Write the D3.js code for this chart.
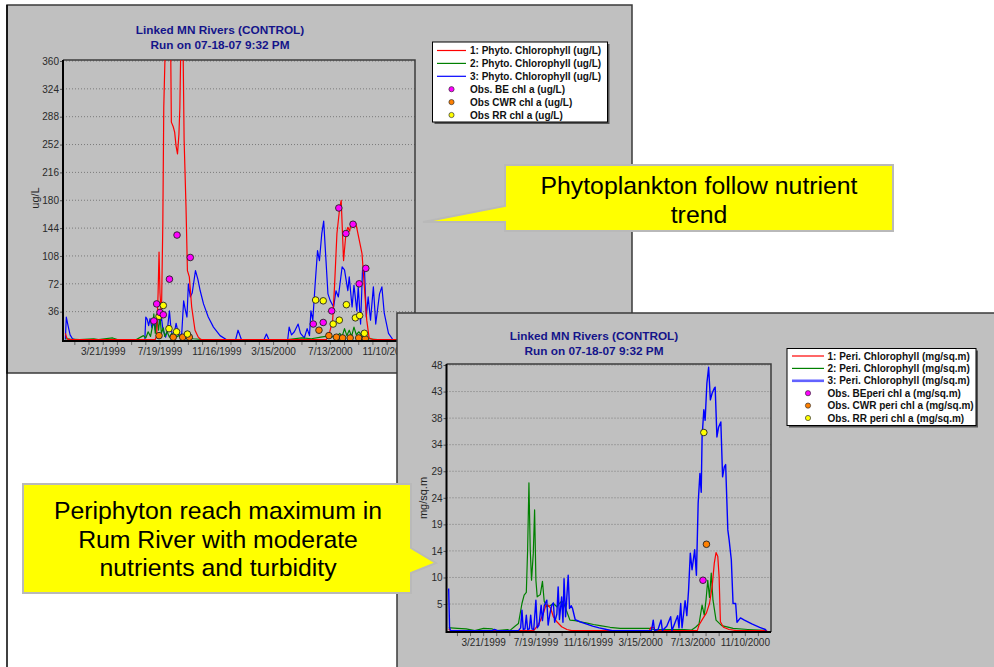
<!DOCTYPE html>
<html>
<head>
<meta charset="utf-8">
<script src="https://cdn.jsdelivr.net/npm/d3@7"></script>
<style>
  body { margin: 0; background: #fff; }
  svg { display: block; font-family: Arial, "Liberation Sans", sans-serif; }
</style>
</head>
<body>
<svg id="fig" width="994" height="667"></svg>
<script>
// ---- data: [day since 1 Jan 1999, value] ----
const phyto1 = [[0,8],[3,2],[6,0],[170,0],[190,0],[193,5],[196,60],[198,113],[200,60],[203,29],[206,150],[208,300],[212,400],[217,420],[222,420],[224,281],[228,275],[231,268],[234,250],[237,240],[240,265],[242,300],[245,420],[248,420],[251,258],[255,171],[258,89],[262,81],[267,42],[274,12],[281,3],[286,0],[552,0],[558,8],[565,25],[569,70],[574,137],[580,171],[583,180],[588,102],[593,137],[597,145],[601,140],[604,152],[609,145],[614,150],[620,132],[627,111],[632,68],[637,25],[642,2],[650,0],[730,0]];
const phyto2 = [[0,1],[10,0.5],[30,0],[60,1],[70,0],[100,2],[110,0],[150,0],[165,5],[170,2],[175,10],[180,4],[185,20],[187,33],[190,8],[194,25],[197,12],[200,30],[203,8],[207,15],[210,4],[215,10],[220,3],[225,8],[230,2],[240,5],[250,2],[260,4],[270,1],[290,0],[470,0],[500,2],[520,1],[540,3],[560,5],[570,2],[580,8],[585,4],[590,14],[595,5],[600,12],[605,4],[610,16],[615,6],[620,10],[630,3],[640,1],[660,0],[730,0]];
const phyto3 = [[0,0],[2,29],[5,20],[10,6],[15,1],[20,0],[168,0],[170,29],[173,26],[176,18],[179,27],[183,15],[187,22],[190,12],[193,28],[196,37],[199,20],[203,29],[206,14],[209,8],[212,3],[216,15],[220,37],[223,15],[226,6],[229,3],[234,21],[238,10],[242,4],[246,8],[250,50],[253,40],[257,29],[260,72],[264,55],[268,60],[275,89],[280,78],[285,63],[292,46],[302,29],[313,16],[327,5],[340,0],[360,0],[365,12],[372,0],[420,0],[425,7],[430,0],[470,0],[473,16],[478,6],[484,10],[492,20],[497,8],[505,2],[511,14],[516,5],[519,37],[523,25],[528,72],[533,115],[537,102],[542,137],[546,153],[550,111],[555,59],[560,50],[567,42],[572,63],[577,55],[585,94],[590,90],[597,63],[600,81],[606,42],[610,70],[616,37],[619,68],[624,20],[628,89],[632,94],[636,29],[640,55],[645,25],[651,68],[656,20],[664,59],[669,68],[674,34],[683,8],[692,0],[730,0]];
const obsBE = [[187,24],[193,46],[200,35],[207,32],[220,78],[236,135],[264,106],[524,20],[545,22],[563,37],[578,170],[593,137],[608,149],[621,72],[635,92]];
const obsCWR = [[198,5],[228,3],[248,3],[262,3],[536,12],[557,5],[573,3],[586,2],[602,2],[620,2],[634,1]];
const obsRR = [[198,30],[207,44],[219,14],[235,10],[258,7],[529,51],[545,50],[566,20],[579,25],[594,45],[613,28],[622,31],[632,8]];

const peri1 = [[0,0.3],[4,0],[195,0],[202,0.7],[209,1.6],[217,3.1],[223,4.6],[228,4.6],[234,4],[240,2.5],[248,1.6],[259,0.7],[271,0.2],[282,0],[460,0],[464,0.6],[470,0.6],[473,0],[570,0],[574,1],[583,2.2],[591,3.2],[598,4.9],[604,7.9],[609,12.2],[613,14.1],[617,13.4],[620,9.8],[623,1.6],[630,0.6],[643,0.2],[660,0],[730,0]];
const peri2 = [[0,0.5],[5,0.5],[20,0.4],[40,0.3],[60,0],[80,0.4],[100,0.3],[110,0],[135,0.2],[140,0],[152,0.8],[160,1.3],[168,4.9],[173,6.4],[178,6.9],[181,14.6],[184,26.7],[187,14.6],[190,9.1],[194,14],[197,21.8],[200,9.1],[203,6.1],[210,6.5],[215,8.9],[219,5.3],[225,4.3],[232,4.5],[240,4.9],[248,4.3],[254,4.9],[259,5.3],[264,4.9],[271,3.4],[278,1.9],[290,1.8],[301,1.6],[315,1.4],[332,1.1],[347,0.9],[370,0.6],[393,0.4],[460,0.4],[470,0.2],[540,0.2],[557,0.1],[566,0.6],[574,1.2],[581,4.6],[586,2.8],[590,5.5],[594,9.1],[598,6],[602,10.4],[606,5.5],[613,1.9],[626,0.9],[652,0.4],[686,0.2],[730,0]];
const peri3 = [[0,7.6],[2,0.6],[4,0],[100,0],[105,0.2],[112,0],[160,0],[165,0.5],[168,3.7],[171,0.2],[175,0.3],[178,2.8],[181,0.2],[185,0.3],[188,2.8],[191,0.3],[195,0.2],[200,5.5],[203,0.5],[207,1],[212,4.6],[215,1.8],[219,4.5],[225,5.5],[228,1],[232,3],[236,4.5],[240,5],[243,1.5],[248,3],[251,7.9],[254,2],[259,6.1],[262,1.5],[264.5,9.4],[268,2.5],[274,10],[277,4],[281,4.5],[284,4],[290,2],[301,1.6],[315,1.2],[330,0.8],[345,0.5],[362,0.2],[375,0],[465,0],[469,1.9],[472,0],[480,0.2],[487,1.9],[490,0],[500,0.8],[509,2.5],[512,0],[525,2.7],[528,0.5],[532,4.9],[535,0.5],[542,5.4],[546,2.7],[550,7.3],[554,14],[558,11],[564,14.6],[568,10],[572,23],[576,28.4],[579,25],[581,35],[585,39.9],[588,38],[592,44.7],[596,47.6],[600,41.7],[604,42.9],[609,43.8],[611,44],[615,35],[619,36.8],[624,37.7],[628,27.8],[632,29.6],[635,30],[640,18.2],[643,16.4],[648,12.8],[652,4.9],[658,4.9],[661,1.5],[669,2.3],[678,1.9],[695,1.2],[713,0.6],[726,0.2],[728,0]];
const obsBEperi = [[583,9.1]];
const obsCWRperi = [[591,15.6]];
const obsRRperi = [[585,35.8]];

const phytoTicks = [36,72,108,144,180,216,252,288,324,360];
const periTicks = [4.8,9.6,14.4,19.2,24,28.8,33.6,38.4,43.2,48];
const dateLabels = ["3/21/1999","7/19/1999","11/16/1999","3/15/2000","7/13/2000","11/10/2000"];
const phytoLegend = ["1: Phyto. Chlorophyll (ug/L)","2: Phyto. Chlorophyll (ug/L)","3: Phyto. Chlorophyll (ug/L)","Obs. BE chl a (ug/L)","Obs CWR chl a (ug/L)","Obs RR chl a (ug/L)"];
const periLegend = ["1: Peri. Chlorophyll (mg/sq.m)","2: Peri. Chlorophyll (mg/sq.m)","3: Peri. Chlorophyll (mg/sq.m)","Obs. BEperi chl a (mg/sq.m)","Obs. CWR peri chl a (mg/sq.m)","Obs. RR peri chl a (mg/sq.m)"];
const titleLines = ["Linked MN Rivers (CONTROL)","Run on 07-18-07 9:32 PM"];
const note1 = ["Phytoplankton follow nutrient","trend"];
const note2 = ["Periphyton reach maximum in","Rum River with moderate","nutrients and turbidity"];

// ---- helpers ----
const DAY = 864e5;
const base = Date.UTC(1999,0,1);
const toDate = d => new Date(base + d * DAY);
const parseLabel = d3.utcParse("%m/%d/%Y");
const fmtLabel = d3.utcFormat("%-m/%-d/%Y");
const majorDates = dateLabels.map(parseLabel);
// minor ticks every 30 days, in step with the labelled ones
const minorDates = d3.range(-2, 22).map(k => d3.utcDay.offset(majorDates[0], 30 * k))
  .filter(d => d >= toDate(-5) && d <= toDate(735));

const COLORS = { red: "#ff0000", green: "#008000", blue: "#0000ff",
  magenta: "#ff00ff", orange: "#ff8000", yellow: "#ffff00" };

const svg = d3.select("#fig");
let clipId = 0;

function drawPanel(opt) {
  const g = svg.append("g");
  // panel background
  g.append("rect").attr("x", opt.box[0]).attr("y", opt.box[1])
    .attr("width", opt.box[2]).attr("height", opt.box[3])
    .attr("fill", "#c0c0c0").attr("stroke", "#3a3a3a").attr("stroke-width", 1.5);

  const x = d3.scaleUtc().domain([toDate(-5), toDate(739)]).range([opt.px0, opt.px1]);
  const y = d3.scaleLinear().domain([0, opt.yMax]).range([opt.y0, opt.y1]);
  const top = opt.y1 - 1, bottom = opt.y0 + 1.5;

  // grid
  g.append("g").selectAll("line").data(opt.yTicks).join("line")
    .attr("x1", opt.px0).attr("x2", opt.px1)
    .attr("y1", d => y(d)).attr("y2", d => y(d))
    .attr("stroke", "#7a7a7a").attr("stroke-width", 1).attr("stroke-dasharray", "1,2");

  // frame: top & right in dark grey
  g.append("path")
    .attr("d", `M${opt.px0},${top}H${opt.px1}V${bottom}`)
    .attr("fill", "none").attr("stroke", "#3c3c3c").attr("stroke-width", 1.5);

  // series
  const cid = "clip" + (clipId++);
  g.append("clipPath").attr("id", cid).append("rect")
    .attr("x", opt.px0).attr("y", top).attr("width", opt.px1 - opt.px0).attr("height", bottom - top);
  const line = d3.line().x(d => x(toDate(d[0]))).y(d => y(d[1]));
  const lines = g.append("g").attr("clip-path", `url(#${cid})`);
  opt.series.forEach(s => {
    lines.append("path").datum(s.data).attr("d", line)
      .attr("fill", "none").attr("stroke", s.color).attr("stroke-width", s.width || 1.2)
      .attr("stroke-linejoin", "round");
  });
  opt.obs.forEach(s => {
    lines.append("g").selectAll("circle").data(s.data).join("circle")
      .attr("cx", d => x(toDate(d[0]))).attr("cy", d => y(d[1])).attr("r", 3.3)
      .attr("fill", s.color).attr("stroke", "#222").attr("stroke-width", 0.9);
  });

  // axes
  const ya = g.append("g").attr("transform", `translate(${opt.px0},0)`)
    .call(d3.axisLeft(y).tickValues(opt.yTicks).tickFormat(d3.format(".0f")).tickSize(3).tickPadding(1));
  ya.select(".domain").remove();
  ya.selectAll("line").attr("stroke", "#555");
  ya.selectAll("text").attr("font-size", 10).attr("fill", "#2a2a2a").attr("font-family", "Arial, 'Liberation Sans', sans-serif");

  const majorSet = new Set(majorDates.map(d => +d));
  const xa = g.append("g").attr("transform", `translate(0,${bottom})`)
    .call(d3.axisBottom(x).tickValues(minorDates).tickSize(4).tickPadding(3)
      .tickFormat(d => majorSet.has(+d) ? fmtLabel(d) : ""));
  xa.select(".domain").remove();
  xa.selectAll("line").attr("stroke", "#666");
  xa.selectAll("text").attr("font-size", 10).attr("fill", "#2a2a2a").attr("font-family", "Arial, 'Liberation Sans', sans-serif");

  // thick left & bottom axis lines
  g.append("path").attr("d", `M${opt.px0},${top}V${bottom}H${opt.px1}`)
    .attr("fill", "none").attr("stroke", "#000").attr("stroke-width", 2);

  // y title
  g.append("text").attr("transform", `translate(${opt.yTitlePos[0]},${opt.yTitlePos[1]}) rotate(-90)`)
    .attr("text-anchor", "middle").attr("font-size", 11).attr("fill", "#222").text(opt.yTitle);

  // chart title
  g.append("g").selectAll("text").data(titleLines).join("text")
    .attr("x", opt.titlePos[0]).attr("y", (d, i) => opt.titlePos[1] + i * 14.5)
    .attr("text-anchor", "middle").attr("font-size", 11.8).attr("font-weight", "bold")
    .attr("fill", "#14148a").text(d => d);

  // legend
  const L = opt.legend;
  const lg = g.append("g");
  lg.append("rect").attr("x", L.x + 2).attr("y", L.y + 2).attr("width", L.w).attr("height", L.h).attr("fill", "#555");
  lg.append("rect").attr("x", L.x).attr("y", L.y).attr("width", L.w).attr("height", L.h)
    .attr("fill", "#fff").attr("stroke", "#000").attr("stroke-width", 1);
  const keys = [COLORS.red, COLORS.green, L.blueKey || COLORS.blue, COLORS.magenta, COLORS.orange, COLORS.yellow];
  const rows = lg.selectAll("g.row").data(opt.legendText).join("g").attr("class", "row")
    .attr("transform", (d, i) => `translate(0,${L.y + L.row0 + i * L.rowH})`);
  rows.each(function(d, i) {
    const r = d3.select(this);
    if (i < 3) {
      r.append("line").attr("x1", L.lx0).attr("x2", L.lx1).attr("y1", 0).attr("y2", 0)
        .attr("stroke", keys[i]).attr("stroke-width", i === 2 ? L.blueW : 1.2);
    } else {
      r.append("circle").attr("cx", (L.lx0 + L.lx1) / 2).attr("cy", 0).attr("r", 2.6)
        .attr("fill", keys[i]).attr("stroke", "#333").attr("stroke-width", 0.7);
    }
    r.append("text").attr("x", L.tx).attr("y", 0).attr("dy", "0.36em")
      .attr("font-size", L.fs).attr("font-weight", "bold").attr("fill", "#111").text(d);
  });
}

function drawCallout(pathD, lines, cx, y0, dy) {
  const g = svg.append("g");
  g.append("path").attr("d", pathD).attr("fill", "#ffff00")
    .attr("stroke", "#b9b9b9").attr("stroke-width", 2).attr("stroke-linejoin", "miter");
  g.selectAll("text").data(lines).join("text")
    .attr("x", cx).attr("y", (d, i) => y0 + i * dy)
    .attr("text-anchor", "middle").attr("font-size", 24.8).attr("fill", "#000").text(d => d);
}

// ---- phytoplankton panel ----
drawPanel({
  box: [7, 5, 625, 368],
  px0: 63, px1: 415, y0: 339.5, y1: 61,
  yMax: 360, yTicks: phytoTicks, yTitle: "ug/L", yTitlePos: [39, 198],
  titlePos: [220, 34],
  series: [{data: phyto3, color: COLORS.blue}, {data: phyto2, color: COLORS.green}, {data: phyto1, color: COLORS.red}],
  obs: [{data: obsCWR, color: COLORS.orange}, {data: obsRR, color: COLORS.yellow}, {data: obsBE, color: COLORS.magenta}],
  legend: {x: 432.5, y: 42, w: 175, h: 80, row0: 8.5, rowH: 12.9, lx0: 437, lx1: 466, tx: 470, fs: 10, blueW: 1.2},
  legendText: phytoLegend
});

// callout over the phytoplankton panel
drawCallout("M505,165H893V231H505V222L423,222L505,206Z", note1, 699, 194, 29);

// ---- periphyton panel ----
drawPanel({
  box: [397, 313, 610, 365],
  px0: 446.5, px1: 771, y0: 630.6, y1: 365,
  yMax: 48, yTicks: periTicks, yTitle: "mg/sq.m", yTitlePos: [427, 498],
  titlePos: [594, 340],
  series: [{data: peri2, color: COLORS.green}, {data: peri1, color: COLORS.red}, {data: peri3, color: COLORS.blue, width: 1.4}],
  obs: [{data: obsBEperi, color: COLORS.magenta}, {data: obsCWRperi, color: COLORS.orange}, {data: obsRRperi, color: COLORS.yellow}],
  legend: {x: 787, y: 348.5, w: 189, h: 77, row0: 7.5, rowH: 12.4, lx0: 792, lx1: 824, tx: 827.5, fs: 10, blueW: 2.6, blueKey: "#6262ff"},
  legendText: periLegend
});

// callout beside the periphyton panel
drawCallout("M23,484H411V548L436,563L411,573V593H23Z", note2, 218, 519, 28.5);

// outer left rule
svg.append("line").attr("x1", 7).attr("x2", 7).attr("y1", 5).attr("y2", 667)
  .attr("stroke", "#000").attr("stroke-width", 1.5);
</script>
</body>
</html>
